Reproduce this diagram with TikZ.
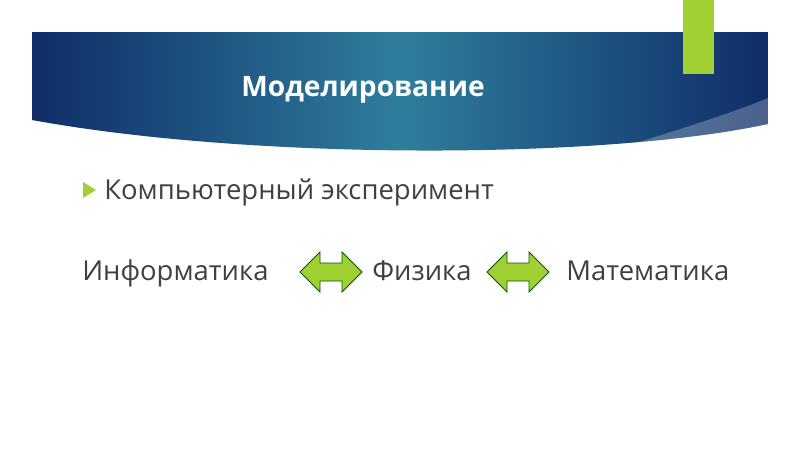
\documentclass[tikz,border=0pt]{standalone}
\usepackage{fontspec}
\setmainfont{Open Sans}
\definecolor{bandDark}{RGB}{16,45,104}
\definecolor{bandLight}{RGB}{52,140,165}
\definecolor{leafGreen}{RGB}{160,208,50}
\definecolor{textGrey}{RGB}{64,64,64}
\tikzset{
  word/.style={text=textGrey, font=\fontsize{19.5}{23}\selectfont, anchor=base west, inner sep=0pt},
  swap/.style={fill=leafGreen, draw=green!35!black, line width=0.6pt, line join=miter}
}
\newcommand{\swaparrow}[1]{% centre x of a two-headed arrow
  \draw[swap] (#1-31,272) -- (#1-11,252) -- (#1-11,263) -- (#1+11,263) -- (#1+11,252)
    -- (#1+31,272) -- (#1+11,292) -- (#1+11,281) -- (#1-11,281) -- (#1-11,292) -- cycle;}
\begin{document}
\begin{tikzpicture}[x=0.025cm,y=-0.025cm]
\useasboundingbox (0,0) rectangle (800,450);
\fill[white] (0,0) rectangle (800,450);

% Title band
\begin{scope}
\clip (32,32) -- (768,32) -- (768,124) .. controls (600,160) and (250,160) .. (32,120) -- cycle;
\shade[left color=bandDark, right color=bandDark, middle color=bandLight!85!bandDark] (32,32) rectangle (768,160);
\fill[white, opacity=0.25] (580,160) .. controls (680,130) and (740,110) .. (768,98) -- (768,160) -- cycle;
\end{scope}
\fill[leafGreen] (683,0) rectangle (714,74);
\node[text=white, font=\bfseries\fontsize{20}{24}\selectfont] (title) at (363,90) {Моделирование};

% Bullet line
\fill[leafGreen] (83,182) -- (96,190) -- (83,198) -- cycle;
\node[word] (exp) at (104,199) {Компьютерный эксперимент};

% Subjects
\node[word] (inf) at (82,280) {Информатика};
\node[word] (phys) at (372,280) {Физика};
\node[word] (math) at (566,280) {Математика};
\swaparrow{331}
\swaparrow{518}
\end{tikzpicture}
\end{document}
